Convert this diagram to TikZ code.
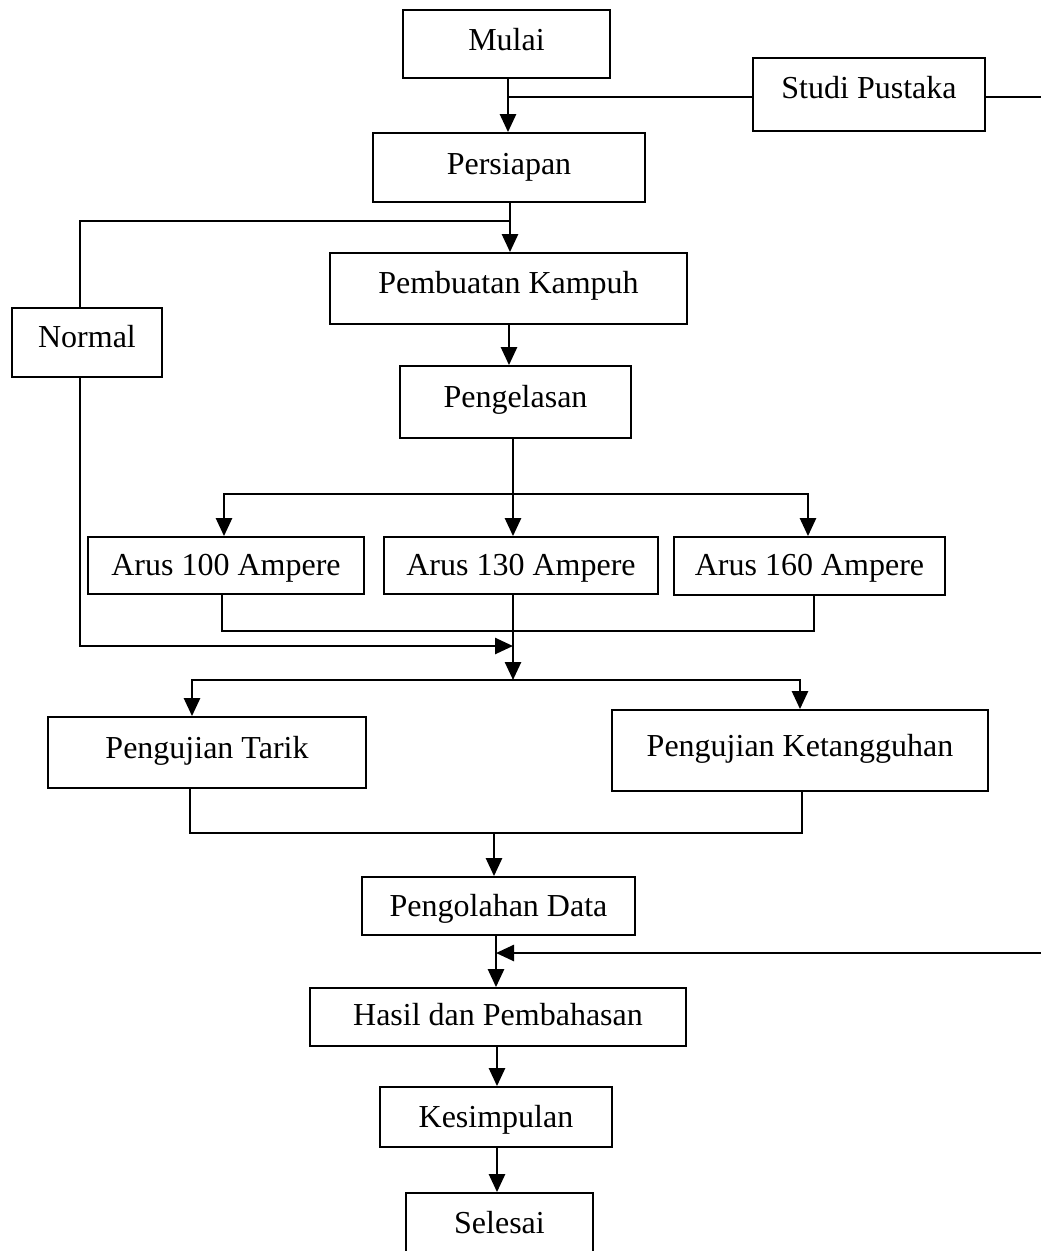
\documentclass[tikz,border=0pt]{standalone}
\usepackage{fontspec}
\setmainfont{Liberation Serif}
\usetikzlibrary{arrows.meta}
\begin{document}
\begin{tikzpicture}[x=1pt,y=-1pt,
  box/.style={draw, line width=1.8pt, inner sep=0pt, text height=21pt, text depth=#1,
    font=\fontsize{32}{38}\selectfont},
  box/.default=10pt,
  conn/.style={line width=2.6pt},
  arr/.style={conn, -{Triangle[width=16pt,length=18pt]}}]
\fill[white] (0,0) rectangle (1041,1251);
\useasboundingbox (0,0) rectangle (1041,1251);
\clip (0,0) rectangle (1041,1251);

% nodes
\node[box=8pt,  minimum width=207pt, minimum height=68pt] (mulai) at (506.5,44) {Mulai};
\node[box=14pt, minimum width=232pt, minimum height=73pt] (studi) at (869,94.5) {Studi Pustaka};
\node[box=8pt,  minimum width=272pt, minimum height=69pt] (persiapan) at (509,167.5) {Persiapan};
\node[box=11pt, minimum width=357pt, minimum height=71pt] (pembuatan) at (508.5,288.5) {Pembuatan Kampuh};
\node[box=10pt, minimum width=231pt, minimum height=72pt] (pengelasan) at (515.5,402) {Pengelasan};
\node[box=11pt, minimum width=150pt, minimum height=69pt] (normal) at (87,342.5) {Normal};
\node[box=2pt,  minimum width=276pt, minimum height=57pt] (arus100) at (226,565.5) {Arus 100 Ampere};
\node[box=2pt,  minimum width=274pt, minimum height=57pt] (arus130) at (521,565.5) {Arus 130 Ampere};
\node[box=2pt,  minimum width=271pt, minimum height=58pt] (arus160) at (809.5,566) {Arus 160 Ampere};
\node[box=9pt,  minimum width=318pt, minimum height=71pt] (tarik) at (207,752.5) {Pengujian Tarik};
\node[box=9pt,  minimum width=376pt, minimum height=81pt] (ket) at (800,750.5) {Pengujian Ketangguhan};
\node[box=0pt,  minimum width=273pt, minimum height=58pt] (olah) at (498.5,906) {Pengolahan Data};
\node[box=4pt,  minimum width=376pt, minimum height=58pt] (hasil) at (498,1017) {Hasil dan Pembahasan};
\node[box=0pt,  minimum width=232pt, minimum height=60pt] (simpul) at (496,1117) {Kesimpulan};
\node[box=4pt,  minimum width=187pt, minimum height=64pt] (selesai) at (499.5,1225) {Selesai};

% helper coordinates
\coordinate (j1) at (508,97);
\coordinate (j2) at (510,221);
\coordinate (px) at (509,0);
\coordinate (lx) at (80,0);
\coordinate (cx) at (513,0);
\coordinate (b1) at (513,494);
\coordinate (ax) at (224,0);
\coordinate (ex) at (808,0);
\coordinate (m1) at (513,631);
\coordinate (a1) at (222,0);
\coordinate (a3) at (814,0);
\coordinate (m2) at (513,646);
\coordinate (b2) at (513,680);
\coordinate (tx) at (192,0);
\coordinate (kx) at (800,0);
\coordinate (tx2) at (190,0);
\coordinate (kx2) at (802,0);
\coordinate (m3) at (494,833);
\coordinate (j3) at (496,953);
\coordinate (hx) at (497,0);
\coordinate (rx) at (1052,0);

% connectors
\draw[arr] (mulai.south -| j1) -- (j1 |- persiapan.north);
\draw[conn] (studi.west |- j1) -- (j1);
\draw[arr] (studi.east |- j1) -- (rx |- j1) -- (rx |- j3) -- (j3);
\draw[arr] (persiapan.south -| j2) -- (j2 |- pembuatan.north);
\draw[conn] (j2) -- (lx |- j2) -- (lx |- normal.north);
\draw[arr] (lx |- normal.south) |- (m2);
\draw[arr] (px |- pembuatan.south) -- (px |- pengelasan.north);
\draw[arr] (cx |- pengelasan.south) -- (cx |- arus130.north);
\draw[arr] (b1) -| (ax |- arus100.north);
\draw[arr] (b1) -| (ex |- arus160.north);
\draw[conn] (a1 |- arus100.south) |- (m1) -| (a3 |- arus160.south);
\draw[arr] (cx |- arus130.south) -- (b2);
\draw[arr] (b2) -| (tx |- tarik.north);
\draw[arr] (b2) -| (kx |- ket.north);
\draw[conn] (tx2 |- tarik.south) |- (m3) -| (kx2 |- ket.south);
\draw[arr] (m3) -- (m3 |- olah.north);
\draw[arr] (j3 |- olah.south) -- (j3 |- hasil.north);
\draw[arr] (hx |- hasil.south) -- (hx |- simpul.north);
\draw[arr] (hx |- simpul.south) -- (hx |- selesai.north);
\end{tikzpicture}
\end{document}
